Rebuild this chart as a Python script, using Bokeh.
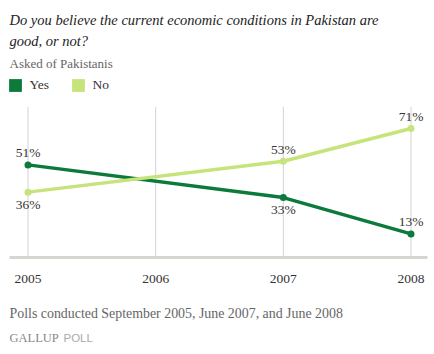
from bokeh.plotting import figure
from bokeh.models import ColumnDataSource, Label, Legend, LegendItem
from bokeh.core.properties import value
from bokeh.embed import file_html
from bokeh.resources import INLINE

# ---- data ----
years = [2005, 2007, 2008]
yes_vals = [51, 33, 13]
no_vals = [36, 53, 71]
tick_years = [2005, 2006, 2007, 2008]
tick_labels = ["2005", "2006", "2007", "2008"]
series_names = ["Yes", "No"]

# ---- style ----
YES_COLOR = "#0B7A3A"
NO_COLOR = "#C6E47B"
TEXT = "#333333"
GRAY = "#666666"
SERIF = "Liberation Serif"
yes_label_side = ["above", "below", "above"]
no_label_side = ["below", "above", "above"]
GRID_TOP = 83          # value where the vertical guide lines stop
AXIS_PAD = (0.145, 0.129)  # axis line overhang in years

# frame covers the whole canvas
p = figure(width=434, height=354, x_range=(2004.7846, 2008.184),
           y_range=(-53.41, 141.52), output_backend="svg", toolbar_location=None,
           min_border=0, x_axis_location=None, y_axis_location=None,
           outline_line_color=None)
p.grid.visible = False

# vertical guide lines
p.segment(x0=tick_years, x1=tick_years, y0=[0] * 4, y1=[GRID_TOP] * 4,
          line_color="#d4d4d4", line_width=1)
# axis line
p.segment(x0=[tick_years[0] - AXIS_PAD[0]], x1=[tick_years[-1] + AXIS_PAD[1]],
          y0=[0], y1=[0], line_color="#d6d6d0", line_width=3)
# tick labels
p.text(x=tick_years, y=[0] * 4, text=tick_labels, y_offset=21,
       text_align="center", text_baseline="middle",
       text_font=value(SERIF), text_font_size="13.5px", text_color=TEXT)

def offsets(sides):
    return [-12 if s == "above" else 12 for s in sides]

for vals, color, sides in [(yes_vals, YES_COLOR, yes_label_side),
                           (no_vals, NO_COLOR, no_label_side)]:
    src = ColumnDataSource(dict(x=years, y=vals,
                                t=[f"{v}%" for v in vals],
                                dy=offsets(sides)))
    p.line("x", "y", source=src, line_color=color, line_width=3.5)
    p.scatter("x", "y", source=src, size=7, fill_color=color, line_color=None)
    p.text("x", "y", text="t", source=src, y_offset="dy",
           text_align="center", text_baseline="middle",
           text_font=value(SERIF), text_font_size="13.5px", text_color=TEXT)

# legend with square swatches (dummy renderers with no visible geometry)
nan = float("nan")
legend_items = []
for name, color in zip(series_names, [YES_COLOR, NO_COLOR]):
    dummy = ColumnDataSource(dict(l=[nan], r=[nan], t=[nan], b=[nan]))
    q = p.quad(left="l", right="r", top="t", bottom="b", source=dummy,
               fill_color=color, line_color=None)
    legend_items.append(LegendItem(label=name, renderers=[q]))
legend = Legend(items=legend_items,
                orientation="horizontal", location=(7.4, 261.5),
                padding=0, margin=0, spacing=21, label_standoff=6,
                glyph_width=16, glyph_height=16, label_height=16,
                border_line_color=None, background_fill_alpha=0,
                label_text_font=SERIF, label_text_font_size="13.5px",
                label_text_color=TEXT)
p.add_layout(legend)

def add_text(txt, x, y, size, color, style="normal", font=SERIF):
    p.add_layout(Label(x=x, y=y, x_units="screen", y_units="screen", text=txt,
                       text_font=font, text_font_size=size, text_color=color,
                       text_font_style=style, text_baseline="alphabetic"))

add_text("Do you believe the current economic conditions in Pakistan are",
         9, 354 - 19.5, "14.5px", "#222222", "italic")
add_text("good, or not?", 9, 354 - 40.5, "14.5px", "#222222", "italic")
add_text("Asked of Pakistanis", 9, 354 - 63.3, "13px", GRAY)
add_text("Polls conducted September 2005, June 2007, and June 2008",
         9, 354 - 312.5, "13.9px", GRAY)
add_text("GALLUP", 9, 354 - 337.5, "12.5px", "#888888")
add_text("POLL", 63, 354 - 337.5, "11.5px", "#aaaaaa", font="Liberation Sans")

open("out.html", "w").write(file_html(p, INLINE))
